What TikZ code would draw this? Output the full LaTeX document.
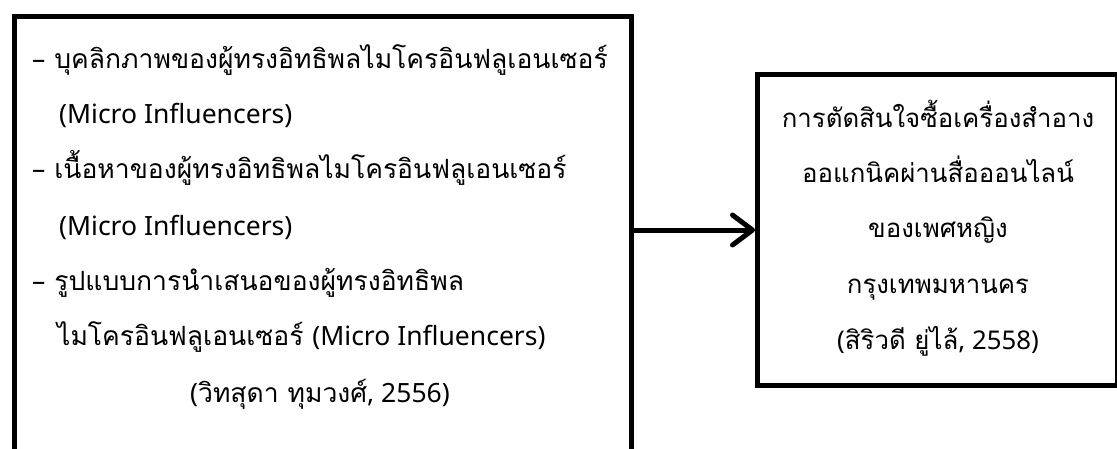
\documentclass[tikz,border=0pt]{standalone}
\usepackage{fontspec}
\setmainfont[Script=Thai]{Loma}
\newfontfamily\latfont{Noto Sans}[Scale=1.0]
\newcommand{\lt}[1]{{\latfont #1}}
\usetikzlibrary{arrows.meta}
\begin{document}
\begin{tikzpicture}[x=1pt,y=-1pt,
  boxframe/.style={draw=black,line width=5pt,rectangle,inner sep=0pt,anchor=north west},
  txt/.style={font=\fontsize{26.5}{30}\selectfont,inner sep=0pt},
  rtxt/.style={font=\fontsize{25.8}{30}\selectfont,inner sep=0pt},
  conn/.style={line width=5pt,-{Straight Barb[length=20pt,width=30pt,line cap=round,round]}}]
\useasboundingbox (0,0) rectangle (1117,448);
\clip (0,0) rectangle (1117,448);
\node[boxframe,minimum width=617pt,minimum height=480pt] (L) at (12,14) {};
\node[boxframe,minimum width=360pt,minimum height=311pt] (R) at (755,72) {};
% left texts
\node[txt,anchor=base west] (l1) at (32,68) {\lt{–} บุคลิกภาพของผู้ทรงอิทธิพลไมโครอินฟลูเอนเซอร์};
\node[txt,anchor=base west] (l2) at (59,123) {\lt{(Micro Influencers)}};
\node[txt,anchor=base west] (l3) at (32,178) {\lt{–} เนื้อหาของผู้ทรงอิทธิพลไมโครอินฟลูเอนเซอร์};
\node[txt,anchor=base west] (l4) at (59,235) {\lt{(Micro Influencers)}};
\node[txt,anchor=base west] (l5) at (32,290) {\lt{–} รูปแบบการนำเสนอของผู้ทรงอิทธิพล};
\node[txt,anchor=base west] (l6) at (57,345) {ไมโครอินฟลูเอนเซอร์ \lt{(Micro Influencers)}};
\node[txt,anchor=base] (l7) at (320,402) {\lt{(}วิทสุดา ทุมวงศ์\lt{, 2556)}};
% right texts
\node[rtxt,anchor=base] (r1) at (938,127) {การตัดสินใจซื้อเครื่องสำอาง};
\node[rtxt,anchor=base] (r2) at (938,182) {ออแกนิคผ่านสื่อออนไลน์};
\node[rtxt,anchor=base] (r3) at (938,237) {ของเพศหญิง};
\node[rtxt,anchor=base] (r4) at (938,293) {กรุงเทพมหานคร};
\node[rtxt,anchor=base] (r5) at (938,349) {\lt{(}สิริวดี ยู่ไล้\lt{, 2558)}};
\draw[conn] (L.east |- R.west) -- (R.west);
\end{tikzpicture}
\end{document}
